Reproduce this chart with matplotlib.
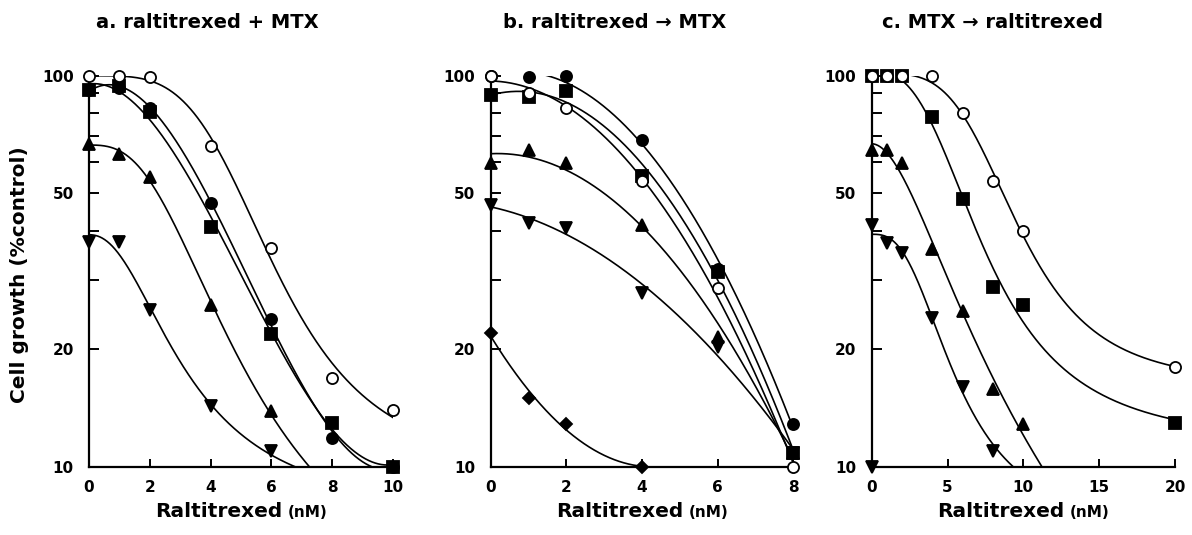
import numpy as np
import matplotlib
matplotlib.use("Agg")
import matplotlib.pyplot as plt
from matplotlib.ticker import FixedLocator, FixedFormatter, NullFormatter
from matplotlib.offsetbox import TextArea, HPacker, AnchoredOffsetbox

plt.rcParams["font.family"] = "DejaVu Sans"
plt.rcParams["font.weight"] = "bold"

# ----------------------------------------------------------------------
# data (cell growth, % of control)
# ----------------------------------------------------------------------

# a. raltitrexed + MTX
a_x = [0, 1, 2, 4, 6, 8, 10]
a_open_circle = [100, 100, 99, 66, 36.2, 16.9, 14.0]
a_circle = [92, 93, 82.7, 47.2, 23.9, 11.9, 10.0]
a_square = [92, 94, 80.6, 41.0, 21.9, 13.0, 10.0]
a_tri_x = [0, 1, 2, 4, 6]
a_tri_up = [67, 62.9, 55, 25.9, 13.9]
a_tri_down = [37.5, 37.5, 25.2, 14.3, 11.0]

# b. raltitrexed -> MTX
b_x = [0, 1, 2, 4, 6, 8]
b_open_circle = [100, 90, 82.7, 53.7, 28.6, 10.0]
b_circle = [100, 99, 100, 68.6, 32, 12.9]
b_square = [89.4, 88, 91.2, 55.3, 31.6, 10.9]
b_tri_up = [59.8, 64.7, 59.8, 41.6, 21.5, 10.9]
b_tri_down = [46.8, 42, 40.8, 27.8, 20.3, 10.9]
b_diamond_x = [0, 1, 2, 4]
b_diamond = [22, 15, 12.9, 10]

# c. MTX -> raltitrexed
c_x = [0, 1, 2, 4, 6, 8, 10, 20]
c_open_circle = [100, 100, 100, 100, 80.3, 53.9, 40.2, 18.0]
c_square = [100, 100, 100, 78.4, 48.4, 28.9, 26.0, 13.0]
c_tri_x = [0, 1, 2, 4, 6, 8, 10]
c_tri_up = [64.7, 64.7, 59.8, 36, 25, 15.8, 12.9]
c_td_x = [0, 1, 2, 4, 6, 8]
c_tri_down = [41.6, 37.3, 35.2, 24, 16, 11.0]
c_extra_x = [0]
c_extra_tri_down = [10]

titles = ["a. raltitrexed + MTX", "b. raltitrexed \u2192 MTX", "c. MTX \u2192 raltitrexed"]


# ----------------------------------------------------------------------
# curve fitting
# ----------------------------------------------------------------------
def hill_grid(x, y, log_space, bottom=None):
    # y = bot + (top - bot) / (1 + (x/ec)^h), grid over ec, h, lstsq for top/bot
    E, H = np.meshgrid(np.linspace(0.5, 30, 300), np.linspace(0.8, 8, 91))
    E = E.ravel()[:, None]
    H = H.ravel()[:, None]
    f = 1 / (1 + (x[None, :] / E) ** H)
    g = 1 - f
    if log_space:
        target = np.log10(y)[None, :]
        w = np.ones_like(y)[None, :]
    else:
        target = y[None, :]
        w = 1 / y[None, :]
    fw, gw, tw = f * w, g * w, target * w
    with np.errstate(all="ignore"):
        if bottom is not None:
            bot = np.full(E.shape[0], float(bottom))
            rw = tw - bot[:, None] * w
            amp = (fw * rw).sum(1) / (fw * fw).sum(1)
            top = amp + bot
            err = ((amp[:, None] * fw - rw) ** 2).sum(1)
            det = np.ones_like(err)
        else:
            sff = (fw * fw).sum(1)
            sfg = (fw * gw).sum(1)
            sgg = (gw * gw).sum(1)
            sfy = (fw * tw).sum(1)
            sgy = (gw * tw).sum(1)
            det = sff * sgg - sfg**2
            top = (sfy * sgg - sgy * sfg) / det
            bot = (sgy * sff - sfy * sfg) / det
            err = (((top[:, None] * fw + bot[:, None] * gw) - tw) ** 2).sum(1)
    err[~np.isfinite(err) | (np.abs(det) < 1e-12)] = np.inf
    k = np.argmin(err)
    return E[k, 0], H[k, 0], top[k], bot[k]


def fit_curve(x, y, kind, x0, x1, bottom=None):
    x = np.asarray(x, float)
    y = np.asarray(y, float)
    xs = np.linspace(x0, x1, 600)
    if kind in ("hill", "loghill"):
        ec, h, top, bot = hill_grid(x, y, kind == "loghill", bottom)
        fs = 1 / (1 + (xs / ec) ** h)
        ys = top * fs + bot * (1 - fs)
        if kind == "loghill":
            ys = 10**ys
    else:
        ys = 10 ** np.polyval(np.polyfit(x, np.log10(y), kind), xs)
    # stop the curve where it runs into the x axis
    below = np.nonzero(ys < 10)[0]
    if below.size:
        n = below[0] + 1
        xs, ys = xs[:n], np.maximum(ys[:n], 1)
    return xs, ys


# ----------------------------------------------------------------------
# figure
# ----------------------------------------------------------------------
W, Hh = 1192, 535
fig = plt.figure(figsize=(W / 100, Hh / 100), dpi=100)

boxes = [(89, 393), (490.7, 793.3), (871.7, 1175)]
top_px, bot_px = 75.5, 467.3
axes = []
for l, r in boxes:
    ax = fig.add_axes([l / W, 1 - bot_px / Hh, (r - l) / W, (bot_px - top_px) / Hh])
    axes.append(ax)

line_kw = dict(color="black", lw=1.2, zorder=2)
mk = dict(color="black", ls="none", clip_on=False, zorder=3, mew=1.3)
open_kw = dict(marker="o", ms=8, mfc="white", mec="black")
fill_o = dict(marker="o", ms=8, mfc="black", mec="black")
fill_s = dict(marker="s", ms=8, mfc="black", mec="black")
up_kw = dict(marker="^", ms=8.5, mfc="black", mec="black")
dn_kw = dict(marker="v", ms=8.5, mfc="black", mec="black")
dia_kw = dict(marker="D", ms=6.5, mfc="black", mec="black")

# panel a
ax = axes[0]
for xx, yy, kind, x0, x1, bot in [
    (a_x, a_open_circle, "loghill", 0, 10, None),
    (a_x, a_circle, 3, 0, 10, None),
    (a_x, a_square, 3, 0, 10, None),
    (a_tri_x, a_tri_up, "hill", 0, 10, 4),
    (a_tri_x, a_tri_down, "hill", 0, 10, 7.5),
]:
    xs, ys = fit_curve(xx, yy, kind, x0, x1, bot)
    ax.plot(xs, ys, **line_kw)
ax.plot(a_x, a_square, **fill_s, **mk)
ax.plot(a_x, a_circle, **fill_o, **mk)
ax.plot(a_x, a_open_circle, **open_kw, **mk)
ax.plot(a_tri_x, a_tri_up, **up_kw, **mk)
ax.plot(a_tri_x, a_tri_down, **dn_kw, **mk)

# panel b
ax = axes[1]
for xx, yy, kind, x0, x1 in [
    (b_x, b_open_circle, 2, 0, 8),
    (b_x, b_circle, 2, 0, 8),
    (b_x, b_square, 2, 0, 8),
    (b_x, b_tri_up, 2, 0, 8),
    (b_x, b_tri_down, 2, 0, 8),
    (b_diamond_x, b_diamond, 2, 0, 4),
]:
    xs, ys = fit_curve(xx, yy, kind, x0, x1)
    ax.plot(xs, ys, **line_kw)
ax.plot(b_x, b_circle, **fill_o, **mk)
ax.plot(b_x, b_square, **fill_s, **mk)
ax.plot(b_x, b_open_circle, **open_kw, **mk)
ax.plot(b_x, b_tri_up, **up_kw, **mk)
ax.plot(b_x, b_tri_down, **dn_kw, **mk)
ax.plot(b_diamond_x, b_diamond, **dia_kw, **mk)

# panel c
ax = axes[2]
for xx, yy, kind, x0, x1, bot in [
    (c_x, c_open_circle, "loghill", 2.3, 20, None),
    (c_x, c_square, "loghill", 1.8, 20, None),
    (c_tri_x, c_tri_up, "hill", 0, 20, 0),
    (c_td_x, c_tri_down, "hill", 0, 20, 7),
]:
    xs, ys = fit_curve(xx, yy, kind, x0, x1, bot)
    ax.plot(xs, ys, **line_kw)
ax.plot(c_x, c_square, **fill_s, **mk)
ax.plot(c_x, c_open_circle, **open_kw, **mk)
ax.plot(c_tri_x, c_tri_up, **up_kw, **mk)
ax.plot(c_td_x, c_tri_down, **dn_kw, **mk)
ax.plot(c_extra_x, c_extra_tri_down, **dn_kw, **mk)

# axes styling
xmax = [10, 8, 20]
xticks = [[0, 2, 4, 6, 8, 10], [0, 2, 4, 6, 8], [0, 5, 10, 15, 20]]
for i, ax in enumerate(axes):
    ax.set_yscale("log")
    ax.set_ylim(10, 100)
    ax.set_xlim(0, xmax[i])
    ax.set_xticks(xticks[i])
    ax.yaxis.set_major_locator(FixedLocator([10, 20, 50, 100]))
    ax.yaxis.set_major_formatter(FixedFormatter(["10", "20", "50", "100"]))
    ax.yaxis.set_minor_locator(FixedLocator([30, 40, 60, 70, 80, 90]))
    ax.yaxis.set_minor_formatter(NullFormatter())
    for s in ["top", "right"]:
        ax.spines[s].set_visible(False)
    for s in ["left", "bottom"]:
        ax.spines[s].set_linewidth(1.6)
    ax.tick_params(which="both", direction="in", width=1.4, labelsize=11)
    ax.tick_params(axis="y", which="both", length=7, pad=11)
    ax.tick_params(axis="x", length=6, pad=9)

    # x label with smaller unit
    box = HPacker(
        children=[
            TextArea("Raltitrexed", textprops=dict(size=14.5, weight="bold")),
            TextArea("(nM)", textprops=dict(size=11, weight="bold")),
        ],
        align="baseline",
        pad=0,
        sep=4,
    )
    anch = AnchoredOffsetbox(
        loc="upper center",
        child=box,
        pad=0,
        borderpad=0,
        frameon=False,
        bbox_to_anchor=(0.5, -0.088),
        bbox_transform=ax.transAxes,
    )
    ax.add_artist(anch)

title_x = [207, 615, 992]
for tx, t in zip(title_x, titles):
    fig.text(tx / W, 1 - 22 / Hh, t, ha="center", va="center", fontsize=14, fontweight="bold")

fig.text(20 / W, 1 - 275 / Hh, "Cell growth (%control)", rotation=90,
         ha="center", va="center", fontsize=14.5, fontweight="bold")

fig.savefig("out.png", dpi=100)
